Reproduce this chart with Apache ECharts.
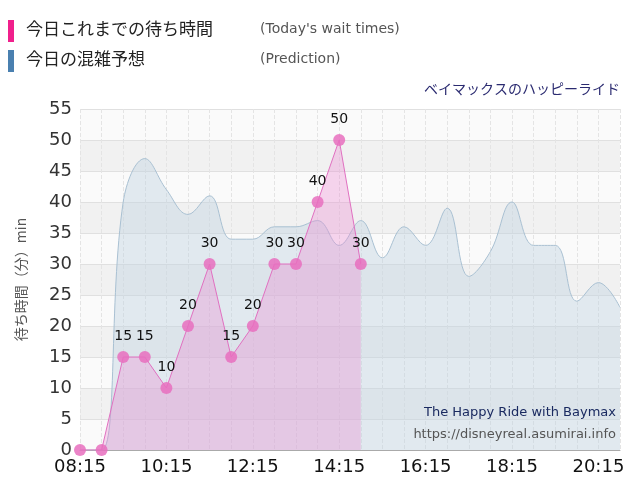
<!DOCTYPE html>
<html><head><meta charset="utf-8">
<script src="https://cdn.jsdelivr.net/npm/echarts@6/dist/echarts.min.js"></script>
<style>body{margin:0}#c{width:640px;height:500px}</style></head>
<body><div id="c"></div>
<script>
const categories=['08:15','08:45','09:15','09:45','10:15','10:45','11:15','11:45','12:15','12:45','13:15','13:45','14:15','14:45','15:15','15:45','16:15','16:45','17:15','17:45','18:15','18:45','19:15','19:45','20:15','20:45'];
const waitTimes=[0,0,15,15,10,20,30,15,20,30,30,40,50,30];
const prediction=[0,0,40,47,42,38,41,34,34,36,36,37,33,37,31,36,33,39,28,32,40,33,33,24,27,23];
const yTicks=[0,5,10,15,20,25,30,35,40,45,50,55];
const chart=echarts.init(document.getElementById('c'));
const F='"DejaVu Sans","Noto Sans CJK JP",sans-serif';
chart.setOption({
  animation:false,
  grid:{left:80,right:20,top:109,bottom:50},
  graphic:[
    {type:'rect',shape:{x:8,y:20,width:6,height:22},style:{fill:'#f0208c'}},
    {type:'text',left:26,top:20,style:{text:'今日これまでの待ち時間',font:'17px "Noto Sans CJK JP"',fill:'#222'}},
    {type:'text',left:260,top:22,style:{text:"(Today's wait times)",font:'14px '+F,fill:'#555'}},
    {type:'rect',shape:{x:8,y:50,width:6,height:22},style:{fill:'#4a80b0'}},
    {type:'text',left:26,top:50,style:{text:'今日の混雑予想',font:'17px "Noto Sans CJK JP"',fill:'#222'}},
    {type:'text',left:260,top:52,style:{text:'(Prediction)',font:'14px '+F,fill:'#555'}},
    {type:'text',right:20,top:82,style:{text:'ベイマックスのハッピーライド',font:'14px "Noto Sans CJK JP"',fill:'#2a2a70'}},
    {type:'text',right:24,top:406,z:10,style:{text:'The Happy Ride with Baymax',font:'13px '+F,fill:'#1a2a60'}},
    {type:'text',right:24,top:428,z:10,style:{text:'https://disneyreal.asumirai.info',font:'13px '+F,fill:'#555'}}
  ],
  xAxis:{type:'category',data:categories,boundaryGap:false,
    axisLabel:{interval:3,fontSize:18,color:'#111',fontFamily:F},
    axisTick:{show:false},axisLine:{lineStyle:{color:'#aaa'}},
    splitLine:{show:true,interval:0,lineStyle:{color:'#e4e4e4',type:'dashed'}}},
  yAxis:{type:'value',min:0,max:55,interval:5,
    name:'待ち時間（分）min',nameLocation:'middle',nameGap:52,nameRotate:90,
    nameTextStyle:{fontSize:14,color:'#555',fontFamily:'"Noto Sans CJK JP"'},
    axisLabel:{fontSize:18,color:'#333',fontFamily:F,formatter:v=>yTicks.includes(v)?String(v):''},
    axisLine:{show:false},axisTick:{show:false},
    splitLine:{lineStyle:{color:'#e0e0e0'}},
    splitArea:{show:true,areaStyle:{color:['#fafafa','#f1f1f1']}}},
  series:[
    {type:'line',data:prediction,smooth:0.4,symbol:'none',
      lineStyle:{color:'#a9c0d2',width:1},areaStyle:{color:'rgba(190,210,225,0.6)'},z:1},
    {type:'line',data:waitTimes,symbol:'circle',symbolSize:12,
      itemStyle:{color:'rgba(232,110,190,0.85)'},
      lineStyle:{color:'#e070c0',width:1},areaStyle:{color:'rgba(235,140,210,0.5)'},
      label:{show:true,position:'top',distance:8,fontSize:14,color:'#111',fontFamily:F,formatter:p=>p.value>0?p.value:''},z:2}
  ]
});
</script></body></html>
